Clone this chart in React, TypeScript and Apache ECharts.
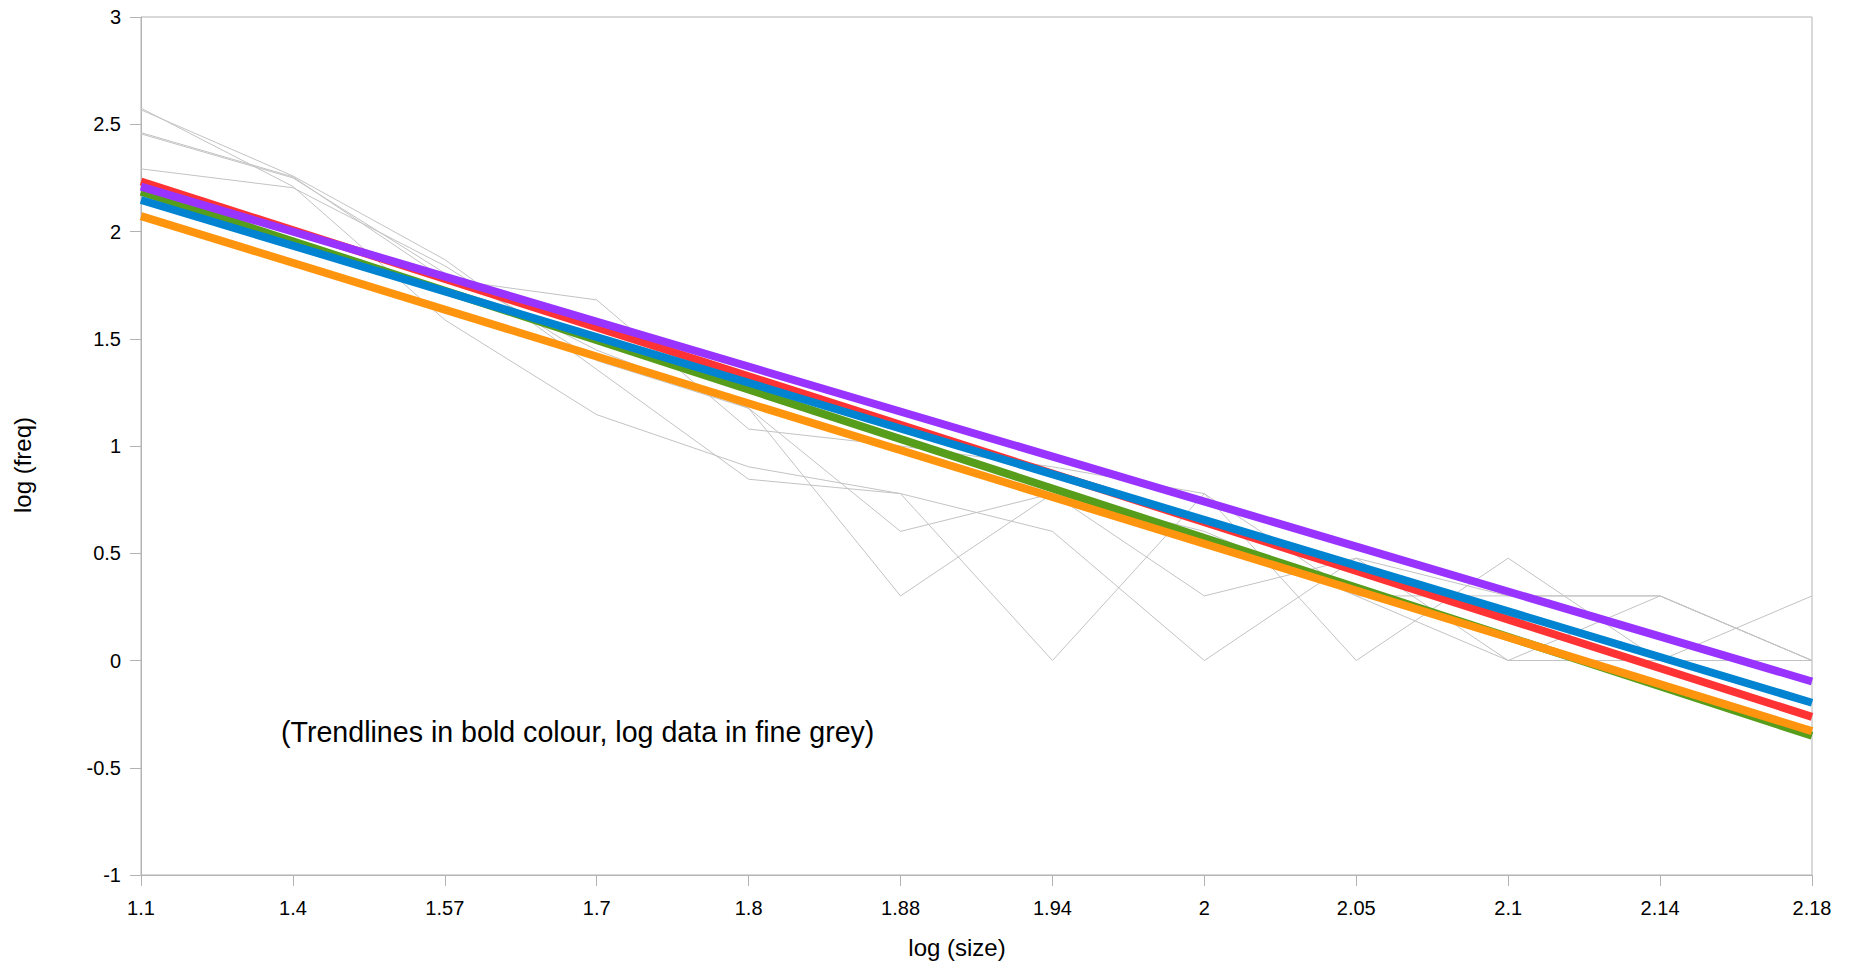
import React, { useEffect, useRef } from 'react';
import * as echarts from 'echarts';

const categories = ['1.1', '1.4', '1.57', '1.7', '1.8', '1.88', '1.94', '2', '2.05', '2.1', '2.14', '2.18'];

const grey1 = [2.575, 2.21, 1.588, 1.146, 0.903, 0.778, 0.602, 0, 0.477, 0, 0.301, 0];
const grey2 = [2.567, 2.259, 1.869, 1.357, 0.845, 0.778, 0, 0.778, 0, 0.477, 0, 0];
const grey3 = [2.461, 2.255, 1.778, 1.681, 1.079, 1.0, 0.903, 0.778, 0.301, 0.301, 0.301, 0];
const grey4 = [2.455, 2.25, 1.806, 1.447, 1.176, 0.602, 0.778, 0.301, 0.477, 0.301, 0.301, 0];
const grey5 = [2.292, 2.204, 1.84, 1.398, 1.176, 0.301, 0.778, 0.602, 0.301, 0, 0, 0.301];
const greySeries = [grey1, grey2, grey3, grey4, grey5];

const trendNames = ['Trend red', 'Trend green', 'Trend blue', 'Trend orange', 'Trend purple'];
const trendColors = ['#ff3333', '#579d1c', '#0084d1', '#ff950e', '#9933ff'];
const trendStart = [2.233, 2.185, 2.147, 2.072, 2.209];
const trendEnd = [-0.263, -0.351, -0.197, -0.329, -0.098];

const yTicks = { min: -1, max: 3, interval: 0.5 };

const xTitle = 'log (size)';
const yTitle = 'log (freq)';
const note = '(Trendlines in bold colour, log data in fine grey)';

export default function App() {
  const ref = useRef<HTMLDivElement>(null);
  useEffect(() => {
    if (!ref.current) return;
    const chart = echarts.init(ref.current, null, { renderer: 'svg' });
    const font = 'Liberation Sans, Arial, sans-serif';
    const series: any[] = [];
    greySeries.forEach((d, i) => {
      series.push({
        type: 'line',
        name: 'data ' + (i + 1),
        data: d,
        showSymbol: false,
        symbol: 'none',
        lineStyle: { color: '#c3c3c3', width: 1 },
        z: 2,
      });
    });
    trendNames.forEach((n, i) => {
      series.push({
        type: 'line',
        name: n,
        data: [
          [categories[0], trendStart[i]],
          [categories[categories.length - 1], trendEnd[i]],
        ],
        showSymbol: false,
        symbol: 'none',
        lineStyle: { color: trendColors[i], width: 8 },
        z: 3 + i,
      });
    });
    chart.setOption({
      animation: false,
      backgroundColor: '#ffffff',
      grid: {
        left: 141,
        right: 39,
        top: 17,
        bottom: 91,
        show: true,
        borderColor: '#b3b3b3',
        borderWidth: 1,
        backgroundColor: 'transparent',
      },
      xAxis: {
        type: 'category',
        data: categories,
        boundaryGap: false,
        axisLine: { show: true, onZero: false, lineStyle: { color: '#b3b3b3', width: 1 } },
        axisTick: { show: true, alignWithLabel: true, length: 11, lineStyle: { color: '#b3b3b3' } },
        axisLabel: { color: '#000', fontSize: 20, fontFamily: font, margin: 23 },
        splitLine: { show: false },
      },
      yAxis: {
        type: 'value',
        min: yTicks.min,
        max: yTicks.max,
        interval: yTicks.interval,
        axisLine: { show: true, lineStyle: { color: '#b3b3b3', width: 1 } },
        axisTick: { show: true, length: 11, lineStyle: { color: '#b3b3b3' } },
        axisLabel: { color: '#000', fontSize: 20, fontFamily: font, margin: 20 },
        splitLine: { show: false },
      },
      graphic: [
        {
          type: 'text',
          x: 957,
          y: 947,
          style: { text: xTitle, fill: '#000', font: '24px ' + font, align: 'center', verticalAlign: 'middle' },
        },
        {
          type: 'text',
          x: 22,
          y: 465,
          rotation: Math.PI / 2,
          style: { text: yTitle, fill: '#000', font: '24px ' + font, align: 'center', verticalAlign: 'middle' },
        },
        {
          type: 'text',
          x: 281,
          y: 732,
          style: { text: note, fill: '#000', font: '28.6px ' + font, align: 'left', verticalAlign: 'middle' },
        },
      ],
      series,
    });
    return () => chart.dispose();
  }, []);
  return (
    <div
      ref={ref}
      style={{ position: 'fixed', left: 0, top: 0, width: 1851, height: 966, background: '#fff' }}
    />
  );
}
